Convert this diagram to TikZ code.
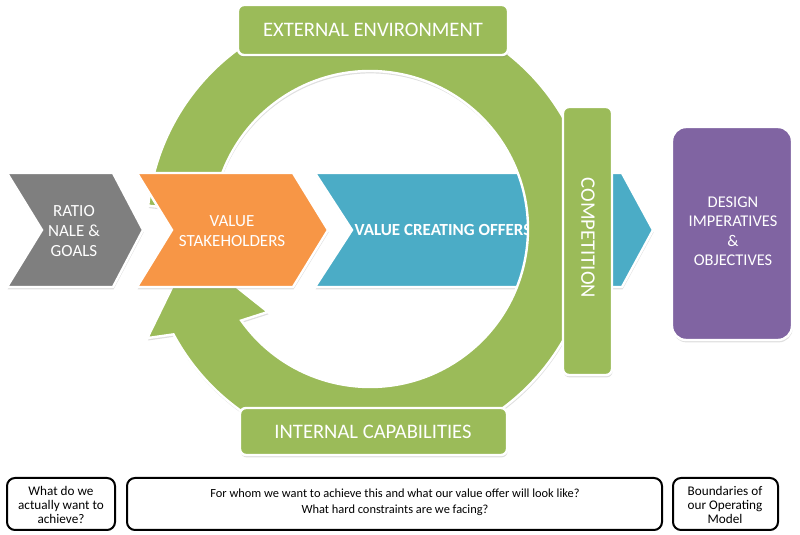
\documentclass[tikz,border=0pt]{standalone}
\usepackage{fontspec}
\setmainfont{Carlito}
\usetikzlibrary{shadows}

\definecolor{ringgreen}{HTML}{9BBB59}
\definecolor{stakeorange}{HTML}{F79646}
\definecolor{offerblue}{HTML}{4BACC6}
\definecolor{ratiogray}{HTML}{7F7F7F}
\definecolor{designpurple}{HTML}{8064A2}

\begin{document}
\begin{tikzpicture}[x=0.5pt,y=-0.5pt,
        shapeedge/.style={draw=white, line width=1.2pt,
            drop shadow={shadow xshift=0.3pt, shadow yshift=-1.2pt, opacity=0.25}},
        labeltext/.style={text=white, align=center, font=\fontsize{8.5}{10}\selectfont},
        bannertext/.style={text=white, font=\fontsize{10.3}{12}\selectfont},
        notebox/.style={draw=black, line width=1pt, rounded corners=4pt},
        notetext/.style={align=center, font=\fontsize{6.6}{7}\selectfont}]
        \useasboundingbox (0,0) rectangle (800,535);
        % value creating offers (behind the ring)
        \draw[shapeedge, fill=offerblue] (315,173)--(622,173)--(653,230)--(622,287)--(315,287)--(352,230)--cycle;
        \node[labeltext, font=\bfseries\fontsize{8.5}{10}\selectfont] (offers) at (443,230) {VALUE CREATING OFFERS};
        % circular arrow
        \begin{scope}[shift={(370,229)}]
            \draw[shapeedge, fill=ringgreen] (-174:223) arc[start angle=-174, end angle=151.8, radius=223]
                --(153.9:248)--(173.3:181)--(140.9:131.5)--(144.6:158)
                arc[start angle=144.6, end angle=-174, radius=158]--cycle;
        \end{scope}
        % chevrons
        \draw[shapeedge, fill=stakeorange] (137,173)--(293,173)--(328,230)--(293,287)--(137,287)--(172,230)--cycle;
        \node[labeltext] (stake) at (232,231) {VALUE\\STAKEHOLDERS};
        \draw[shapeedge, fill=ratiogray] (7,173)--(113,173)--(143,230)--(113,287)--(7,287)--(42,230)--cycle;
        \node[labeltext] (ratio) at (74,231) {RATIO\\NALE \&\\GOALS};
        % banners
        \draw[shapeedge, fill=ringgreen, rounded corners=3pt] (238,5) rectangle (508,55);
        \node[bannertext] (extenv) at (373,30) {EXTERNAL ENVIRONMENT};
        \draw[shapeedge, fill=ringgreen, rounded corners=3pt] (240,408) rectangle (507,455);
        \node[bannertext] (intcap) at (373,432) {INTERNAL CAPABILITIES};
        \draw[shapeedge, fill=ringgreen, rounded corners=3pt] (563,107) rectangle (612,375);
        \node[bannertext, rotate=-90] (compet) at (588,238) {COMPETITION};
        % design box
        \draw[shapeedge, fill=designpurple, rounded corners=7pt] (672,127) rectangle (792,340);
        \node[labeltext, font=\fontsize{8.2}{9.75}\selectfont] (design) at (733,231) {DESIGN\\IMPERATIVES\\\&\\OBJECTIVES};
        % questions
        \draw[notebox] (7,478) rectangle (115,530);
        \node[notetext] (qwhat) at (61,505) {What do we\\actually want to\\achieve?};
        \draw[notebox] (127,478) rectangle (662,530);
        \node[notetext, font=\fontsize{6.2}{8}\selectfont] (qwhom) at (395,502) {For whom we want to achieve this and what our value offer will look like?\\What hard constraints are we facing?};
        \draw[notebox] (673,478) rectangle (778,530);
        \node[notetext] (qbound) at (725,505) {Boundaries of\\our Operating\\Model};
    \end{tikzpicture}
\end{document}
